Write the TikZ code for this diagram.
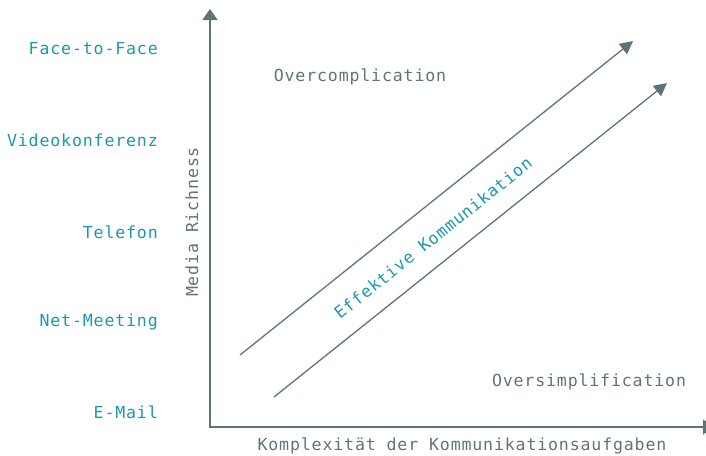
\documentclass[tikz,border=0pt]{standalone}
\usepackage{fontspec}
\setmainfont[LetterSpace=5]{DejaVu Sans Mono}
\usetikzlibrary{arrows.meta}
\definecolor{axisgray}{HTML}{5F7479}
\definecolor{teal}{HTML}{1B98AD}
\begin{document}
\begin{tikzpicture}[x=1pt,y=-1pt,
  axis/.style={draw=axisgray,line width=1.4pt,-{Triangle[length=11pt,width=15pt]}},
  diag/.style={draw=axisgray,line width=1.3pt,-{Triangle[length=13pt,width=13pt]}},
  medium/.style={text=teal,anchor=east,font=\fontsize{16.6}{19}\selectfont,inner sep=0pt},
  graytxt/.style={text=axisgray,font=\fontsize{16.6}{19}\selectfont,inner sep=0pt},
]
\useasboundingbox (0,0) rectangle (706,455);
\coordinate (o) at (210,427);
\coordinate (ytop) at (210,9);
\coordinate (xend) at (714,427);
\draw[axis] (o) -- (ytop);
\draw[axis] ([xshift=-0.7pt]o) -- (xend);
\node[medium] (f2f) at (158,49) {Face-to-Face};
\node[medium] (vk) at (158,140) {Videokonferenz};
\node[medium] (tel) at (158,232) {Telefon};
\node[medium] (nm) at (158,322) {Net-Meeting};
\node[medium] (em) at (158,412) {E-Mail};
\node[graytxt,rotate=90] (mr) at (192,222) {Media Richness};
\node[graytxt] (oc) at (360,77) {Overcomplication};
\node[graytxt] (os) at (589,382) {Oversimplification};
\node[graytxt] (kx) at (462,446) {Komplexität der Kommunikationsaufgaben};
\coordinate (a1s) at (240,355);
\coordinate (a1e) at (633,41);
\coordinate (a2s) at (274,397);
\coordinate (a2e) at (667,83);
\draw[diag] (a1s) -- (a1e);
\draw[diag] (a2s) -- (a2e);
\node[text=teal,font=\fontsize{16.6}{19}\selectfont,inner sep=0pt,rotate=38.6] (ek) at (433,238) {Effektive Kommunikation};
\end{tikzpicture}
\end{document}
